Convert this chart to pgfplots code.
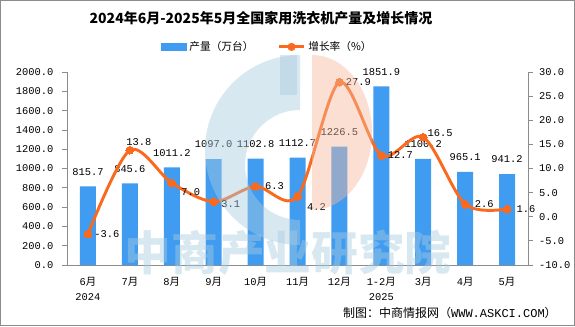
\documentclass[border=0pt]{standalone}
\usepackage{pgfplots}
\usepackage{pgfplotstable}
\pgfplotsset{compat=1.18}
\usepackage{fontspec}
\setmainfont{Liberation Mono}
\newfontfamily\cjk{Noto Sans CJK SC}
\definecolor{barblue}{HTML}{3F9CF1}
\definecolor{lineor}{HTML}{FA6A1E}
\definecolor{axgray}{HTML}{8C8C8C}
\definecolor{wmblue}{HTML}{A9CBE0}
\definecolor{wmorange}{HTML}{F5B99C}

\pgfplotstableread{
x y
0 815.7
1 845.6
2 1011.2
3 1097.0
4 1102.8
5 1112.7
6 1226.5
7 1851.9
8 1100.2
9 965.1
10 941.2
}\prodtab

\pgfplotstableread{
x y
0 -3.6
1 13.8
2 7.0
3 3.1
4 6.3
5 4.2
6 27.9
7 12.7
8 16.5
9 2.6
10 1.6
}\growthtab

\begin{document}
\begin{tikzpicture}[x=0.75pt,y=0.75pt]
\useasboundingbox (0,0) rectangle (575,326);
\draw[axgray,line width=0.75pt] (0.5,0.5) rectangle (574.5,325.5);

\pgfplotsset{
  common/.style={
    at={(50.25pt,45.75pt)}, anchor=south west,
    scale only axis, width=345.75pt, height=144.75pt,
    xmin=-0.5, xmax=10.5,
    axis line style={axgray, line width=0.6pt},
    tick style={axgray, line width=0.6pt},
    tick align=outside,
    major tick length=3.75pt,
    minor tick length=3.75pt,
    /pgf/number format/.cd, fixed, fixed zerofill, precision=1, 1000 sep={}, assume math mode=true,
    /pgfplots/.cd,
    ticklabel style={font=\fontsize{7.8}{11}\selectfont},
  },
  lbl/.style 2 args={draw=none, mark=none, point meta=y, nodes near coords,
    every node near coord/.append style={anchor=center, xshift=#1*0.75pt, yshift=#2*0.75pt,
      font=\fontsize{7.8}{9}\selectfont, text=black}},
}

\begin{axis}[common,
  ymin=0, ymax=2000,
  axis x line*=bottom, axis y line*=left,
  ytick={0,200,...,2000},
  yticklabel style={xshift=-3pt},
  xtick={0,...,10},
  x tick style={draw=none},
  minor xtick={-0.5,0.5,...,10.5},
  xticklabels={6{\cjk 月}\\2024, 7{\cjk 月}, 8{\cjk 月}, 9{\cjk 月}, 10{\cjk 月}, 11{\cjk 月}, 12{\cjk 月}, 1-2{\cjk 月}\\2025, 3{\cjk 月}, 4{\cjk 月}, 5{\cjk 月}},
  xticklabel style={align=center, yshift=-2pt},
]
\addplot[ybar, bar width=12pt, fill=barblue, draw=none,
  point meta=y,
  nodes near coords,
  every node near coord/.append style={anchor=center, yshift=11pt, font=\fontsize{7.8}{9}\selectfont, text=black},
] table[x=x,y=y] {\prodtab};
\end{axis}

\begin{axis}[common,
  ymin=-10, ymax=30,
  axis x line=none, axis y line*=right,
  ytick={-10,-5,...,30},
  yticklabel style={xshift=1pt},
  legend style={at={(0.435,1.13)}, anchor=center, draw=none, fill=none,
    font=\fontsize{8}{10}\selectfont, legend columns=2,
    /tikz/every even column/.append style={column sep=16pt}},
  legend cell align=left,
]
\addlegendimage{legend image code/.code={\fill[barblue] (0pt,-2.4pt) rectangle (19pt,2.4pt);}}
\addlegendentry{{\cjk 产量（万台）}}
\addlegendimage{legend image code/.code={\draw[lineor,line width=2.2pt] (0pt,0pt) -- (19pt,0pt); \fill[lineor] (9.5pt,0pt) circle (2.8pt);}}
\addlegendentry{{\cjk 增长率（\%）}}
\addplot[lineor, line width=2.2pt, smooth, tension=0.5,
  mark=*, mark size=2.9pt, mark options={fill=lineor, draw=lineor, line width=0pt},
] table[x=x,y=y] {\growthtab};
% data labels for the growth line
\addplot[lbl={19}{0}] coordinates {(0,-3.6) (4,6.3) (6,27.9) (7,12.7) (9,2.6) (10,1.6)};
\addplot[lbl={9}{8}] coordinates {(1,13.8)};
\addplot[lbl={19}{-9}] coordinates {(2,7.0)};
\addplot[lbl={17}{-2}] coordinates {(3,3.1)};
\addplot[lbl={19}{-11}] coordinates {(5,4.2)};
\addplot[lbl={17}{4}] coordinates {(8,16.5)};
\end{axis}

% watermark
\begin{scope}[opacity=0.45]
  \fill[wmorange] (312,271) -- (312,116) arc[start angle=-90, end angle=90, x radius=60, y radius=77.5] -- cycle;
  \fill[wmblue, even odd rule] (300,271) arc[start angle=90, end angle=270, radius=95] -- (300,106) arc[start angle=-90, end angle=-270, radius=55] -- cycle;
  \fill[wmblue] (280,271) rectangle (297,231);
  \node[text=wmblue, inner sep=0pt, font=\cjk\bfseries\fontsize{35}{35}\selectfont] at (288,73) {中商产业研究院};
\end{scope}

\node[font=\cjk\bfseries\fontsize{10.5}{13}\selectfont] at (261,308) {2024年6月-2025年5月全国家用洗衣机产量及增长情况};
\node[anchor=east, font=\fontsize{9}{11}\selectfont, inner sep=0pt] at (557,13) {{\cjk 制图：中商情报网（}WWW.ASKCI.COM{\cjk ）}};
\end{tikzpicture}
\end{document}
